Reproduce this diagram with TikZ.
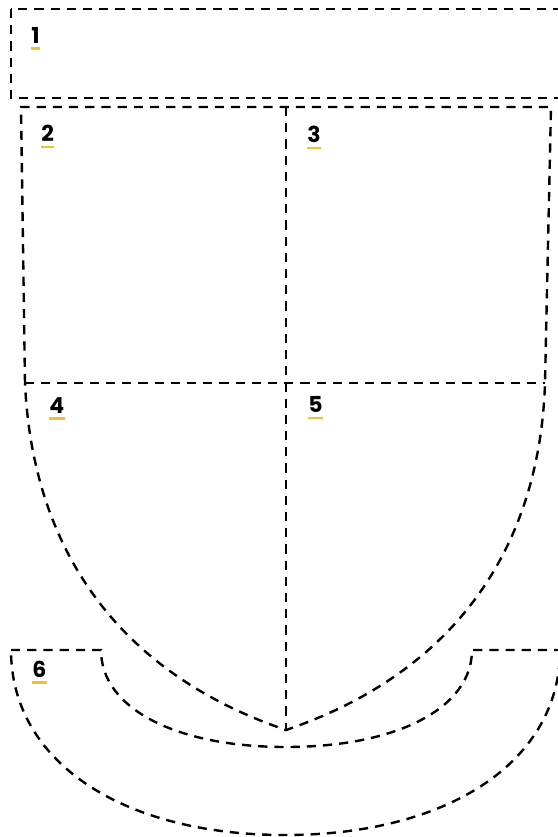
\documentclass[tikz,border=0pt]{standalone}
\usepackage{fontspec}
\newfontfamily\numfont{Poppins}
\usepackage{xcolor}
\usepackage{tikz}
\usetikzlibrary{calc}
\definecolor{tagyellow}{HTML}{F5C02A}
\tikzset{
  cutline/.style={
    draw=black,
    line width=1.2pt,
    dash pattern=on 4.6pt off 3.5pt,
  },
  numlbl/.style={
    font=\numfont\bfseries\fontsize{11}{13}\selectfont,
    inner sep=0pt,
    anchor=base west,
  },
  uline/.style={
    draw=tagyellow,
    line width=1.1pt,
  },
}
% number with its yellow underline: name, position, text
\newcommand\numtag[3]{%
  \node[numlbl] (#1) at (#2) {#3};
  \draw[uline] ([yshift=-2.6pt]#1.base west) -- ([yshift=-2.6pt]#1.base east);
}

\begin{document}
\begin{tikzpicture}[x=0.5pt, y=-0.5pt]
  \useasboundingbox (0,0) rectangle (558,837);

  % Panel 1 — top strip
  \draw[cutline] (11,9) rectangle (562,98);

  % Shield — outline
  \coordinate (tl) at (21,107);
  \coordinate (tr) at (551,107);
  \coordinate (ml) at (25,383);
  \coordinate (mr) at (545,383);
  \coordinate (top) at (286,107);
  \coordinate (tip) at (286,730);

  \draw[cutline] (ml) -- (tl) -- (tr) -- (mr)
    .. controls (540,540) and (462,670) .. (tip)
    .. controls (110,670) and (32,540) .. (ml) -- cycle;

  % Shield — dividers
  \draw[cutline] (top) -- (tip);
  \draw[cutline] (ml) -- (mr);

  % Panel 6 — bottom band
  \draw[cutline] (11,650) -- (101,650)
    .. controls (101,708) and (175,747) .. (286,747)
    .. controls (397,747) and (472,708) .. (472,650) -- (560,650)
    .. controls (560,761) and (449,835) .. (285,835)
    .. controls (121,835) and (11,761) .. (11,650) -- cycle;

  % Numbers
  \numtag{n1}{31,43.3}{1}
  \numtag{n2}{41,141.7}{2}
  \numtag{n3}{307,142.7}{3}
  \numtag{n4}{49,413.3}{4}
  \numtag{n5}{308,412.7}{5}
  \numtag{n6}{32,677.3}{6}
\end{tikzpicture}
\end{document}
